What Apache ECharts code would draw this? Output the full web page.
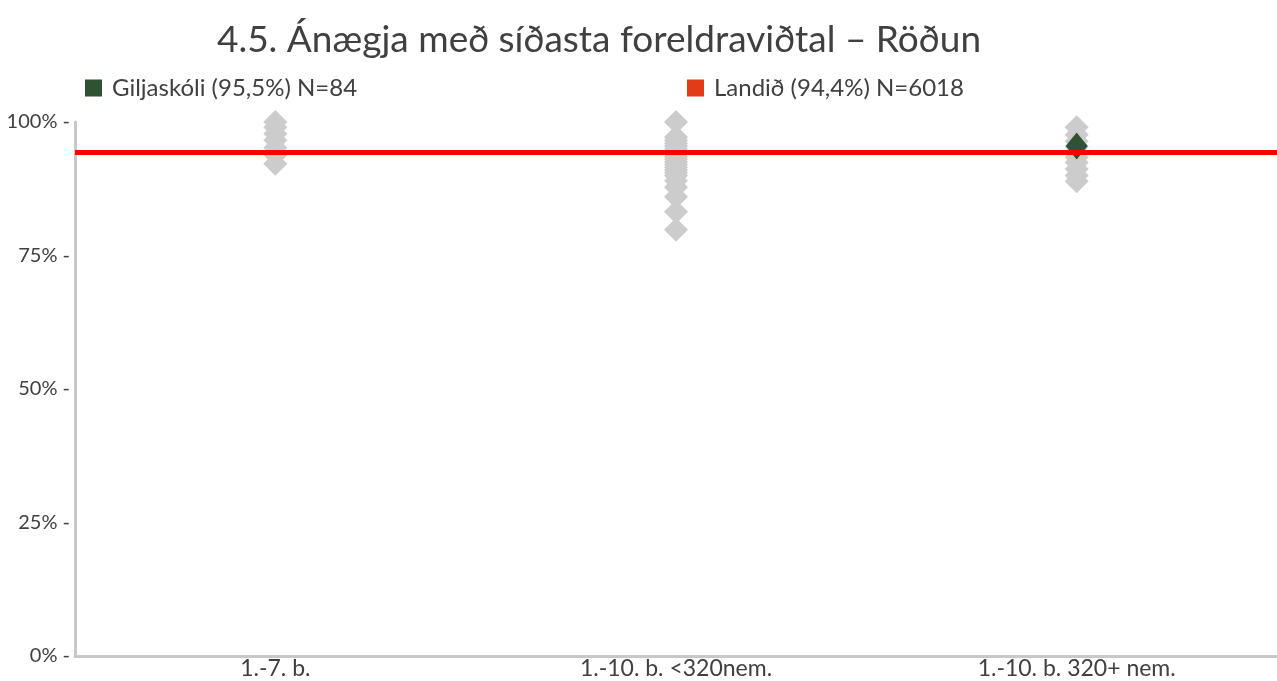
<!DOCTYPE html>
<html>
<head>
<meta charset="utf-8">
<script src="https://cdn.jsdelivr.net/npm/echarts@6/dist/echarts.min.js"></script>
<style>
  html, body { margin: 0; padding: 0; background: #ffffff; }
  #chart { width: 1277px; height: 681px; }
</style>
</head>
<body>
<div id="chart"></div>
<script>
// School-type groups on the x axis
const categories = ['1.-7. b.', '1.-10. b. <320nem.', '1.-10. b. 320+ nem.'];

// Per-school results (%) within each group
const groupSmall = [100, 99, 97.8, 96.6, 95.2, 93.8, 92.2];
const groupMid = [100, 97.2, 96.6, 96, 95.5, 95, 94.5, 94, 93.5, 93, 92.5, 92, 91.5, 91, 90.5, 90, 89, 87.8, 86, 83.2, 79.8];
const groupLarge = [99, 97.6, 96.4, 95.4, 94.4, 93.4, 92.4, 91.2, 90, 88.9];

// Highlighted school and the national average
const schoolName = 'Giljaskóli (95,5%) N=84';
const schoolGroup = 2;
const schoolValue = 95.5;
const nationName = 'Landið (94,4%) N=6018';
const nationValue = 94.4;

const yTicks = [0, 25, 50, 75, 100];

const groups = [groupSmall, groupMid, groupLarge];
const otherPoints = [];
groups.forEach((vals, i) => vals.forEach(v => otherPoints.push([i, v])));

const font = 'Lato, "Open Sans", sans-serif';
const textColor = '#404040';

const chart = echarts.init(document.getElementById('chart'), null, { renderer: 'canvas' });
chart.setOption({
  animation: false,
  backgroundColor: '#ffffff',
  title: {
    text: '4.5. Ánægja með síðasta foreldraviðtal – Röðun',
    left: 594,
    textAlign: 'center',
    top: 17,
    textStyle: { fontFamily: font, fontSize: 37, fontWeight: 'normal', color: textColor }
  },
  legend: [
    {
      data: [{ name: schoolName, icon: 'rect', itemStyle: { color: '#2f5233' } }],
      left: 80, top: 71, itemWidth: 17, itemHeight: 17,
      selectedMode: false,
      textStyle: { fontFamily: font, fontSize: 24, color: textColor, padding: [0, 0, 0, 5] }
    },
    {
      data: [{ name: nationName, icon: 'rect', itemStyle: { color: '#e03c17' } }],
      left: 682, top: 71, itemWidth: 17, itemHeight: 17,
      selectedMode: false,
      textStyle: { fontFamily: font, fontSize: 24, color: textColor, padding: [0, 0, 0, 5] }
    }
  ],
  grid: { left: 75, right: 0, top: 122, bottom: 25, containLabel: false },
  xAxis: {
    type: 'category',
    data: categories,
    boundaryGap: true,
    axisLine: { lineStyle: { color: '#c8c8c8', width: 3 } },
    axisTick: { show: false },
    axisLabel: { fontFamily: font, fontSize: 23, color: textColor, margin: 1 },
    splitLine: { show: false }
  },
  yAxis: {
    type: 'value',
    min: yTicks[0],
    max: yTicks[yTicks.length - 1],
    interval: 25,
    axisLine: { show: true, lineStyle: { color: '#c8c8c8', width: 3 } },
    axisTick: { show: false },
    axisLabel: { formatter: '{value}% -', fontFamily: font, fontSize: 20, color: textColor, margin: 5 },
    splitLine: { show: false }
  },
  series: [
    {
      name: 'other',
      type: 'scatter',
      symbol: 'diamond',
      symbolSize: 24,
      itemStyle: { color: '#cccccc', opacity: 1 },
      data: otherPoints,
      silent: true,
      z: 2
    },
    {
      name: schoolName,
      type: 'scatter',
      symbol: 'diamond',
      symbolSize: [22, 27],
      itemStyle: { color: '#2f5233', opacity: 1 },
      data: [[schoolGroup, schoolValue]],
      silent: true,
      z: 3
    },
    {
      name: nationName,
      type: 'line',
      data: [],
      silent: true,
      z: 5,
      markLine: {
        silent: true,
        symbol: ['none', 'none'],
        label: { show: false },
        lineStyle: { color: '#ff0000', width: 5, type: 'solid' },
        emphasis: { disabled: true },
        data: [{ yAxis: nationValue }]
      }
    }
  ]
});
</script>
</body>
</html>
